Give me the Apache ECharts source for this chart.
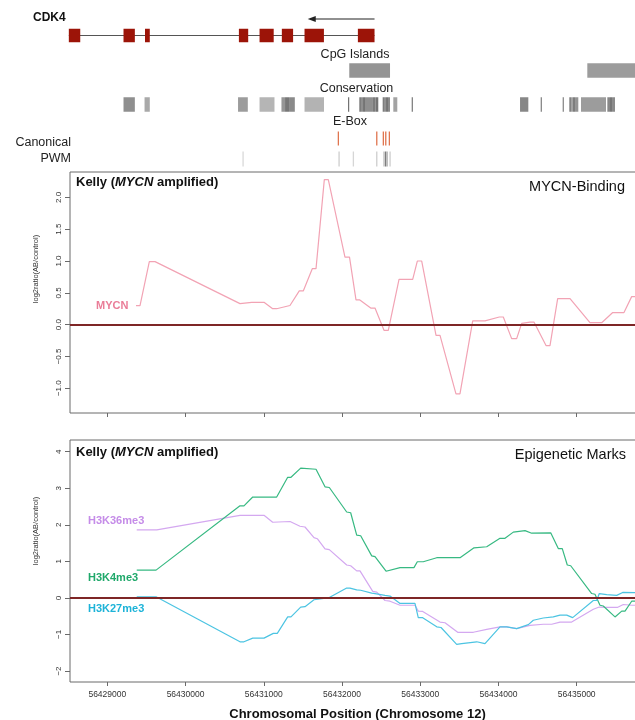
<!DOCTYPE html>
<html><head><meta charset="utf-8">
<script src="https://cdn.jsdelivr.net/npm/echarts@6/dist/echarts.min.js"></script>
<style>html,body{margin:0;padding:0;background:#fff}#c{width:635px;height:720px}</style>
</head><body><div id="c"></div><script>
// ---------------- DATA ----------------
const xTicks = [56429000, 56430000, 56431000, 56432000, 56433000, 56434000, 56435000];
const yTicksTop = [-1.0, -0.5, 0.0, 0.5, 1.0, 1.5, 2.0];
const yTicksBottom = [-2, -1, 0, 1, 2, 3, 4];

// Gene model (CDK4, minus strand)
const geneExons = [[56428508,56428654],[56429207,56429352],[56429482,56429543],[56430682,56430801],[56430946,56431127],[56431231,56431375],[56431521,56431769],[56432203,56432416]];
const geneArrow = [56432416, 56431562];
// CpG islands
const cpgIslands = [[56432093,56432614],[56435136,56435850]];
const cpgScore = [0.62, 0.55];
// Conservation blocks
const consBlocks = [[56429207,56429352],[56429476,56429543],[56430671,56430796],[56430946,56431137],[56431226,56431272],[56431272,56431323],[56431323,56431397],[56431521,56431770],[56432077,56432090],[56432221,56432243],[56432243,56432269],[56432269,56432294],[56432294,56432396],[56432396,56432422],[56432422,56432435],[56432435,56432464],[56432520,56432537],[56432537,56432563],[56432563,56432588],[56432588,56432614],[56432656,56432707],[56432891,56432904],[56434276,56434382],[56434540,56434553],[56434821,56434834],[56434906,56434927],[56434927,56434953],[56434953,56434979],[56434979,56435021],[56435055,56435375],[56435392,56435426],[56435426,56435452],[56435452,56435490]];
const consScore = [0.66,0.45,0.55,0.35,0.6,0.85,0.7,0.37,0.9,0.8,0.66,0.88,0.66,0.82,0.6,0.88,0.8,0.64,0.88,0.7,0.5,0.85,0.72,0.8,0.78,0.8,0.5,0.8,0.62,0.55,0.72,0.86,0.7];
// E-Box
const eboxCanonical = [56431953, 56432444, 56432528, 56432559, 56432605];
const eboxPWM = [56430735, 56431962, 56432145, 56432444, 56432537, 56432559, 56432579, 56432614];
const eboxPWMScore = [0.12, 0.2, 0.14, 0.2, 0.35, 0.85, 0.3, 0.2];

// MYCN binding
const mycnPos = [56429367,56429418,56429537,56429610,56430696,56430846,56431003,56431114,56431165,56431335,56431454,56431505,56431620,56431668,56431774,56431825,56432038,56432096,56432179,56432224,56432367,56432422,56432537,56432592,56432729,56432904,56432963,56433019,56433202,56433253,56433457,56433508,56433671,56433828,56434011,56434062,56434169,56434233,56434297,56434403,56434454,56434608,56434659,56434757,56434915,56435170,56435320,56435461,56435605,56435703,56435810];
const mycnVal = [0.30,0.30,0.99,0.99,0.33,0.35,0.35,0.25,0.25,0.30,0.53,0.53,0.88,0.88,2.28,2.28,1.06,1.06,0.39,0.39,0.26,0.26,-0.09,-0.09,0.71,0.71,1.00,1.00,-0.17,-0.17,-1.09,-1.09,0.06,0.06,0.12,0.12,-0.22,-0.22,0.02,0.04,0.04,-0.33,-0.33,0.41,0.41,0.03,0.03,0.19,0.19,0.44,0.44];

// Epigenetic marks
const k36Pos = [56429376,56429632,56430696,56431003,56431114,56431336,56431463,56431527,56431642,56431684,56431783,56431838,56432060,56432111,56432188,56432230,56432393,56432444,56432550,56432614,56432742,56432933,56432975,56433032,56433253,56433317,56433479,56433679,56433850,56434020,56434106,56434233,56434403,56434573,56434681,56434787,56434936,56435213,56435289,56435404,56435519,56435596,56435703,56435810];
const k36Val = [1.86,1.86,2.26,2.26,2.07,2.09,1.96,1.94,1.65,1.62,1.34,1.32,0.90,0.88,0.74,0.74,0.18,0.16,-0.07,-0.09,-0.20,-0.20,-0.36,-0.37,-0.66,-0.68,-0.94,-0.94,-0.86,-0.79,-0.79,-0.84,-0.75,-0.72,-0.72,-0.66,-0.66,-0.31,-0.25,-0.26,-0.26,-0.18,-0.20,-0.20];

const k4Pos = [56429376,56429623,56430696,56430747,56430859,56431165,56431306,56431348,56431472,56431668,56431783,56431838,56432060,56432111,56432188,56432239,56432380,56432422,56432563,56432742,56432920,56432963,56433039,56433211,56433509,56433688,56433850,56434020,56434084,56434190,56434340,56434425,56434668,56434765,56434816,56434880,56434924,56435192,56435234,56435298,56435340,56435490,56435576,56435618,56435703,56435810];
const k4Val = [0.76,0.76,2.52,2.52,2.76,2.76,3.30,3.30,3.55,3.52,3.04,3.02,2.35,2.33,1.72,1.70,1.15,1.13,0.73,0.83,0.83,0.99,0.99,1.10,1.10,1.37,1.40,1.63,1.63,1.80,1.84,1.77,1.78,1.35,1.35,0.90,0.88,0.12,0.10,-0.20,-0.22,-0.52,-0.36,-0.36,-0.09,-0.09];

const k27Pos = [56429376,56429623,56430696,56430747,56430859,56431003,56431122,56431173,56431306,56431348,56431472,56431527,56431642,56431719,56431838,56432060,56432102,56432188,56432239,56432380,56432422,56432550,56432614,56432742,56432933,56432975,56433032,56433211,56433266,56433466,56433530,56433722,56433828,56434020,56434106,56434233,56434382,56434446,56434573,56434701,56434787,56434873,56434949,56435213,56435256,56435289,56435384,56435512,56435588,56435810];
const k27Val = [0.03,0.03,-1.20,-1.20,-1.10,-1.10,-0.97,-0.97,-0.52,-0.52,-0.25,-0.24,-0.05,-0.03,0.01,0.27,0.27,0.22,0.21,0.13,0.12,0.07,0.05,-0.15,-0.15,-0.54,-0.54,-0.79,-0.81,-1.27,-1.25,-1.20,-1.25,-0.79,-0.79,-0.84,-0.73,-0.61,-0.55,-0.52,-0.47,-0.47,-0.54,-0.07,-0.07,0.12,0.09,0.07,0.15,0.14];

// ---------------- LAYOUT / STYLE ----------------
const FONT = '"Liberation Sans", Arial, Helvetica, sans-serif';
const X_MIN = 56428523, X_MAX = 56435784;
const ROW = {arrow: 19, gene: 35.5, cpg: 70.5, cons: 104.5, canon: 138.5, pwm: 159};
const H = {gene: 13.5, cpg: 14.5, cons: 14.5, canon: 14, pwm: 15};
const COL = {exon: '#9c1408', mycn: '#f2a3b4', k36: '#d4a8f0', k4: '#37b982', k27: '#4cc4e2', zero: '#7e2626', frame: '#6a6a6a', ebox: '#e0754f'};

function gray(s) { const v = Math.round(225 - s * 125); return 'rgb(' + v + ',' + v + ',' + v + ')'; }
function pairs(p, v) { return p.map((x, i) => [x, v[i]]); }

function bandRender(rowKey, colorFn) {
  return function (params, api) {
    const a = api.coord([api.value(0), ROW[rowKey]]);
    const b = api.coord([api.value(1), ROW[rowKey]]);
    return {type: 'rect', shape: {x: a[0], y: a[1] - H[rowKey] / 2, width: Math.max(b[0] - a[0], 1.2), height: H[rowKey]},
      style: {fill: colorFn(api.value(2))}};
  };
}
function tickRender(rowKey, colorFn) {
  return function (params, api) {
    const a = api.coord([api.value(0), ROW[rowKey]]);
    return {type: 'rect', shape: {x: a[0] - 0.6, y: a[1] - H[rowKey] / 2, width: 1.3, height: H[rowKey]},
      style: {fill: colorFn(api.value(1))}};
  };
}

const geneSpan = [Math.min(...geneExons.map(e => e[0])), Math.max(...geneExons.map(e => e[1]))];

const trackSeries = [
  {type: 'custom', xAxisIndex: 0, yAxisIndex: 0, data: [geneSpan], clip: false, silent: true, z: 2,
    renderItem: (params, api) => {
      const a = api.coord([api.value(0), ROW.gene]); const b = api.coord([api.value(1), ROW.gene]);
      return {type: 'line', shape: {x1: a[0], y1: a[1], x2: b[0], y2: b[1]}, style: {stroke: '#555', lineWidth: 1}};
    }},
  {type: 'custom', xAxisIndex: 0, yAxisIndex: 0, data: geneExons.map(e => [e[0], e[1], 1]), clip: false, silent: true, z: 3,
    renderItem: bandRender('gene', () => COL.exon)},
  {type: 'custom', xAxisIndex: 0, yAxisIndex: 0, data: [geneArrow], clip: false, silent: true, z: 3,
    renderItem: (params, api) => {
      const a = api.coord([api.value(0), ROW.arrow]); const b = api.coord([api.value(1), ROW.arrow]);
      return {type: 'group', children: [
        {type: 'line', shape: {x1: a[0], y1: a[1], x2: b[0] + 5, y2: b[1]}, style: {stroke: '#222', lineWidth: 1.2}},
        {type: 'polygon', shape: {points: [[b[0], b[1]], [b[0] + 8, b[1] - 3], [b[0] + 8, b[1] + 3]]}, style: {fill: '#222'}}
      ]};
    }},
  {type: 'custom', xAxisIndex: 0, yAxisIndex: 0, data: cpgIslands.map((e, i) => [e[0], e[1], cpgScore[i]]), clip: false, silent: true,
    renderItem: bandRender('cpg', gray)},
  {type: 'custom', xAxisIndex: 0, yAxisIndex: 0, data: consBlocks.map((e, i) => [e[0], e[1], consScore[i]]), clip: false, silent: true,
    renderItem: bandRender('cons', gray)},
  {type: 'custom', xAxisIndex: 0, yAxisIndex: 0, data: eboxCanonical.map(p => [p, 1]), clip: false, silent: true,
    renderItem: tickRender('canon', () => COL.ebox)},
  {type: 'custom', xAxisIndex: 0, yAxisIndex: 0, data: eboxPWM.map((p, i) => [p, eboxPWMScore[i]]), clip: false, silent: true,
    renderItem: tickRender('pwm', s => { const v = Math.round(235 - s * 150); return 'rgb(' + v + ',' + v + ',' + v + ')'; })}
];

function lineSeries(xi, data, color) {
  return {type: 'line', xAxisIndex: xi, yAxisIndex: xi, data: data, showSymbol: false, symbol: 'none', silent: true,
    lineStyle: {color: color, width: 1.2}, itemStyle: {color: color}, z: 3};
}
function zeroLine() {
  return {silent: true, symbol: ['none', 'none'], label: {show: false}, data: [{yAxis: 0}],
    lineStyle: {color: COL.zero, width: 2, type: 'solid'}, emphasis: {disabled: true}, animation: false};
}

const s1 = lineSeries(1, pairs(mycnPos, mycnVal), COL.mycn); s1.markLine = zeroLine();
const s2 = lineSeries(2, pairs(k36Pos, k36Val), COL.k36);
const s3 = lineSeries(2, pairs(k4Pos, k4Val), COL.k4);
const s4 = lineSeries(2, pairs(k27Pos, k27Val), COL.k27); s4.markLine = zeroLine();

function xAxisCfg(gi, labels) {
  return {type: 'value', gridIndex: gi, min: X_MIN, max: X_MAX, position: 'bottom', splitLine: {show: false}, axisLine: {show: false, onZero: false},
    axisTick: {show: true, customValues: xTicks, length: 4, lineStyle: {color: COL.frame}},
    axisLabel: {show: !!labels, customValues: xTicks, margin: 8, fontSize: 8.5, color: '#333', fontFamily: FONT, formatter: v => String(v)}};
}
function yAxisCfg(gi, min, max, ticks, fmt) {
  return {type: 'value', gridIndex: gi, min: min, max: max, position: 'left', splitLine: {show: false}, axisLine: {show: false, onZero: false},
    axisTick: {show: true, customValues: ticks, length: 5, lineStyle: {color: COL.frame}},
    axisLabel: {show: true, customValues: ticks, rotate: 90, margin: 7, fontSize: 8, color: '#333', fontFamily: FONT, formatter: fmt}};
}
const fmt1 = v => (v < 0 ? '\u2212' : '') + Math.abs(v).toFixed(1);
const fmt0 = v => (v < 0 ? '\u2212' : '') + Math.abs(Math.round(v));

function txt(x, y, text, font, fill, align, valign, extra) {
  return Object.assign({type: 'text', x: x, y: y, silent: true, z: 10,
    style: {text: text, font: font, fill: fill, textAlign: align, textVerticalAlign: valign, align: align, verticalAlign: valign}}, extra || {});
}
function kellyLabel(x, y) {
  return {type: 'text', x: x, y: y, silent: true, z: 10,
    style: {text: '{b|Kelly (}{i|MYCN}{b| amplified)}', textVerticalAlign: 'middle', verticalAlign: 'middle', fill: '#111',
      rich: {b: {font: 'bold 13px ' + FONT, fill: '#111'}, i: {font: 'italic bold 13px ' + FONT, fill: '#111'}}}};
}

const graphics = [
  txt(33, 18, 'CDK4', 'bold 12px ' + FONT, '#111', 'left', 'middle'),
  txt(355, 54.5, 'CpG Islands', '12.5px ' + FONT, '#222', 'center', 'middle'),
  txt(356.5, 89, 'Conservation', '12.5px ' + FONT, '#222', 'center', 'middle'),
  txt(350, 122, 'E-Box', '12.5px ' + FONT, '#222', 'center', 'middle'),
  txt(71, 143, 'Canonical', '12.5px ' + FONT, '#222', 'right', 'middle'),
  txt(71, 158.5, 'PWM', '12.5px ' + FONT, '#222', 'right', 'middle'),
  kellyLabel(76, 182),
  txt(625, 187, 'MYCN-Binding', '14.5px ' + FONT, '#111', 'right', 'middle'),
  txt(96, 305.5, 'MYCN', 'bold 11px ' + FONT, '#ea7d98', 'left', 'middle'),
  kellyLabel(76, 452),
  txt(626, 454.5, 'Epigenetic Marks', '14.5px ' + FONT, '#111', 'right', 'middle'),
  txt(88, 520.5, 'H3K36me3', 'bold 11px ' + FONT, '#c58ce8', 'left', 'middle'),
  txt(88, 577.5, 'H3K4me3', 'bold 11px ' + FONT, '#1fa86a', 'left', 'middle'),
  txt(88, 609, 'H3K27me3', 'bold 11px ' + FONT, '#1db3d8', 'left', 'middle'),
  txt(36, 269, 'log2ratio(AB/control)', '7.5px ' + FONT, '#333', 'center', 'middle', {rotation: Math.PI / 2}),
  txt(36, 531, 'log2ratio(AB/control)', '7.5px ' + FONT, '#333', 'center', 'middle', {rotation: Math.PI / 2}),
  txt(357.5, 714, 'Chromosomal Position (Chromosome 12)', 'bold 13px ' + FONT, '#111', 'center', 'middle')
];

const chart = echarts.init(document.getElementById('c'), null, {renderer: 'canvas'});
chart.setOption({
  animation: false,
  backgroundColor: '#fff',
  textStyle: {fontFamily: FONT},
  grid: [
    {left: 70, right: -3, top: 0, height: 170, show: false, outerBoundsMode: 'none', containLabel: false},
    {left: 70, right: -3, top: 172, height: 241, show: true, borderColor: COL.frame, borderWidth: 1, backgroundColor: 'transparent', outerBoundsMode: 'none', containLabel: false},
    {left: 70, right: -3, top: 440, height: 242, show: true, borderColor: COL.frame, borderWidth: 1, backgroundColor: 'transparent', outerBoundsMode: 'none', containLabel: false}
  ],
  xAxis: [
    {type: 'value', gridIndex: 0, min: X_MIN, max: X_MAX, show: false},
    xAxisCfg(1, false),
    xAxisCfg(2, true)
  ],
  yAxis: [
    {type: 'value', gridIndex: 0, min: 0, max: 170, inverse: true, show: false},
    yAxisCfg(1, -1.39, 2.40, yTicksTop, fmt1),
    yAxisCfg(2, -2.30, 4.32, yTicksBottom, fmt0)
  ],
  series: trackSeries.concat([s1, s2, s3, s4]),
  graphic: graphics
});
</script></body></html>
